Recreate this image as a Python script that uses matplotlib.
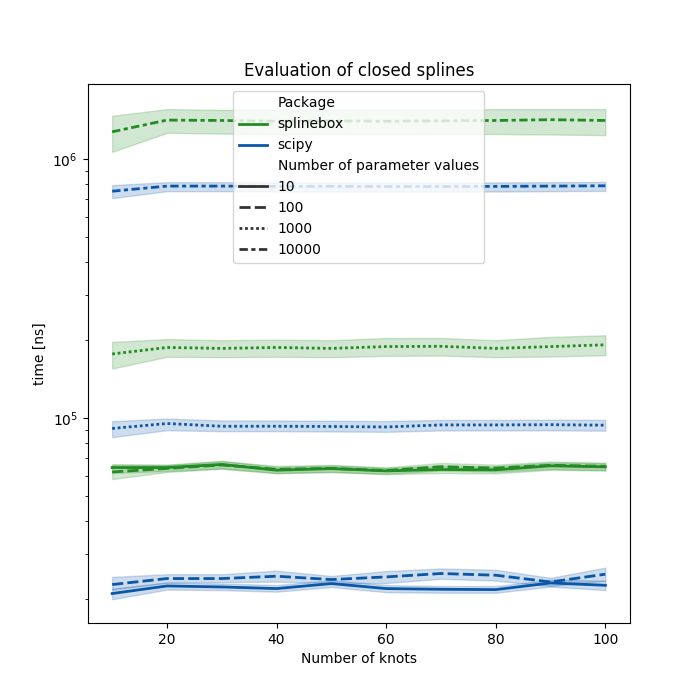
import matplotlib.pyplot as plt
from matplotlib.lines import Line2D

knots = [10, 20, 30, 40, 50, 60, 70, 80, 90, 100]
packages = ['splinebox', 'scipy']
n_params = ['10', '100', '1000', '10000']
colors = {'splinebox': '#228b22', 'scipy': '#0a56a8'}
dashes = {'10': '', '100': (4, 1.5), '1000': (1, 1), '10000': (3, 1.25, 1.5, 1.25)}

# mean timings [ns] and confidence band per (package, number of parameter values)
splinebox_10 = [6.45e4, 6.45e4, 6.63e4, 6.30e4, 6.39e4, 6.26e4, 6.34e4, 6.32e4, 6.55e4, 6.49e4]
splinebox_10_lo = [6.15e4, 6.25e4, 6.40e4, 6.12e4, 6.20e4, 6.08e4, 6.14e4, 6.12e4, 6.32e4, 6.28e4]
splinebox_10_hi = [6.65e4, 6.62e4, 6.85e4, 6.48e4, 6.58e4, 6.44e4, 6.55e4, 6.52e4, 6.75e4, 6.70e4]
splinebox_100 = [6.20e4, 6.40e4, 6.60e4, 6.35e4, 6.40e4, 6.28e4, 6.50e4, 6.42e4, 6.58e4, 6.52e4]
splinebox_100_lo = [5.82e4, 6.20e4, 6.38e4, 6.15e4, 6.20e4, 6.10e4, 6.28e4, 6.22e4, 6.36e4, 6.30e4]
splinebox_100_hi = [6.60e4, 6.60e4, 6.82e4, 6.55e4, 6.60e4, 6.46e4, 6.72e4, 6.62e4, 6.80e4, 6.74e4]
splinebox_1000 = [1.77e5, 1.875e5, 1.86e5, 1.875e5, 1.86e5, 1.89e5, 1.895e5, 1.86e5, 1.89e5, 1.92e5]
splinebox_1000_lo = [1.555e5, 1.725e5, 1.72e5, 1.725e5, 1.72e5, 1.74e5, 1.745e5, 1.72e5, 1.73e5, 1.75e5]
splinebox_1000_hi = [1.97e5, 2.02e5, 2.0e5, 2.01e5, 2.0e5, 2.04e5, 2.04e5, 2.0e5, 2.06e5, 2.09e5]
splinebox_10000 = [1.275e6, 1.415e6, 1.41e6, 1.40e6, 1.405e6, 1.40e6, 1.405e6, 1.41e6, 1.42e6, 1.41e6]
splinebox_10000_lo = [1.067e6, 1.263e6, 1.255e6, 1.245e6, 1.25e6, 1.245e6, 1.25e6, 1.25e6, 1.245e6, 1.238e6]
splinebox_10000_hi = [1.47e6, 1.56e6, 1.55e6, 1.55e6, 1.55e6, 1.55e6, 1.55e6, 1.56e6, 1.56e6, 1.56e6]
scipy_10 = [2.105e4, 2.252e4, 2.232e4, 2.20e4, 2.30e4, 2.20e4, 2.186e4, 2.18e4, 2.313e4, 2.265e4]
scipy_10_lo = [2.00e4, 2.18e4, 2.17e4, 2.14e4, 2.23e4, 2.13e4, 2.12e4, 2.12e4, 2.24e4, 2.17e4]
scipy_10_hi = [2.20e4, 2.32e4, 2.30e4, 2.27e4, 2.37e4, 2.27e4, 2.25e4, 2.25e4, 2.38e4, 2.36e4]
scipy_100 = [2.28e4, 2.405e4, 2.405e4, 2.455e4, 2.384e4, 2.44e4, 2.515e4, 2.477e4, 2.333e4, 2.50e4]
scipy_100_lo = [2.18e4, 2.32e4, 2.33e4, 2.34e4, 2.31e4, 2.31e4, 2.40e4, 2.36e4, 2.25e4, 2.36e4]
scipy_100_hi = [2.44e4, 2.50e4, 2.50e4, 2.58e4, 2.46e4, 2.57e4, 2.63e4, 2.60e4, 2.42e4, 2.65e4]
scipy_1000 = [9.13e4, 9.54e4, 9.31e4, 9.31e4, 9.29e4, 9.25e4, 9.42e4, 9.42e4, 9.44e4, 9.40e4]
scipy_1000_lo = [8.45e4, 8.99e4, 8.91e4, 8.91e4, 8.89e4, 8.86e4, 8.97e4, 8.97e4, 8.98e4, 8.95e4]
scipy_1000_hi = [9.74e4, 9.97e4, 9.80e4, 9.80e4, 9.78e4, 9.75e4, 9.85e4, 9.85e4, 9.87e4, 9.85e4]
scipy_10000 = [7.52e5, 7.87e5, 7.87e5, 7.85e5, 7.85e5, 7.84e5, 7.84e5, 7.85e5, 7.87e5, 7.89e5]
scipy_10000_lo = [7.07e5, 7.52e5, 7.52e5, 7.50e5, 7.50e5, 7.49e5, 7.49e5, 7.50e5, 7.52e5, 7.54e5]
scipy_10000_hi = [7.94e5, 8.15e5, 8.15e5, 8.13e5, 8.13e5, 8.12e5, 8.12e5, 8.13e5, 8.15e5, 8.17e5]

series = {
    ('splinebox', '10'): (splinebox_10, splinebox_10_lo, splinebox_10_hi),
    ('splinebox', '100'): (splinebox_100, splinebox_100_lo, splinebox_100_hi),
    ('splinebox', '1000'): (splinebox_1000, splinebox_1000_lo, splinebox_1000_hi),
    ('splinebox', '10000'): (splinebox_10000, splinebox_10000_lo, splinebox_10000_hi),
    ('scipy', '10'): (scipy_10, scipy_10_lo, scipy_10_hi),
    ('scipy', '100'): (scipy_100, scipy_100_lo, scipy_100_hi),
    ('scipy', '1000'): (scipy_1000, scipy_1000_lo, scipy_1000_hi),
    ('scipy', '10000'): (scipy_10000, scipy_10000_lo, scipy_10000_hi),
}

fig, ax = plt.subplots(figsize=(7, 7), dpi=100)

for (pkg, n), (mean, lo, hi) in series.items():
    c = colors[pkg]
    line, = ax.plot(knots, mean, color=c, lw=2)
    if dashes[n]:
        line.set_dashes(dashes[n])
    ax.fill_between(knots, lo, hi, color=c, alpha=0.2)

ax.set_yscale('log')
ax.set_xlim(5.5, 104.5)
ax.set_ylim(1.62e4, 1.95e6)
ax.set_title('Evaluation of closed splines')
ax.set_xlabel('Number of knots')
ax.set_ylabel('time [ns]')

handles = [Line2D([], [], linestyle='')]
labels = ['Package']
for pkg in packages:
    handles.append(Line2D([], [], color=colors[pkg], lw=2))
    labels.append(pkg)
handles.append(Line2D([], [], linestyle=''))
labels.append('Number of parameter values')
for n in n_params:
    h = Line2D([], [], color='#333333', lw=2)
    if dashes[n]:
        h.set_dashes(dashes[n])
    handles.append(h)
    labels.append(n)
ax.legend(handles, labels, loc='upper center')

fig.savefig('out.png')
